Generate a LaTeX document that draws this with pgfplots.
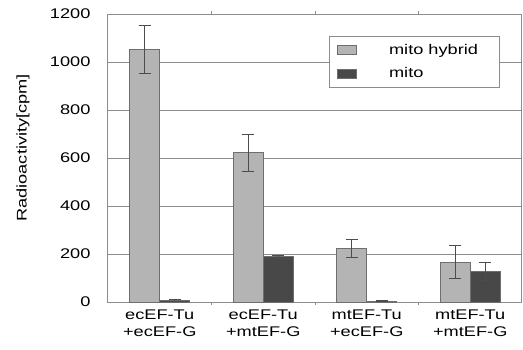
\documentclass[border=0pt]{standalone}
\usepackage{fontspec}
\setmainfont{Liberation Sans}
\newfontfamily\wide[FakeStretch=1.3]{Liberation Sans}
\usepackage{pgfplots}
\pgfplotsset{compat=1.18}
\definecolor{lightbar}{HTML}{B4B4B4}
\definecolor{darkbar}{HTML}{484848}
\definecolor{edge}{HTML}{6E6E6E}
\definecolor{gridc}{HTML}{8C8C8C}
\begin{document}
\begin{tikzpicture}
\useasboundingbox (-108pt,-47pt) rectangle (415pt,302pt);
\begin{axis}[
  at={(0,0)}, anchor=south west,
  scale only axis,
  width=414pt, height=288pt,
  xmin=-0.5, xmax=3.5,
  ymin=0, ymax=1200,
  ytick={0,200,...,1200},
  xtick={0,1,2,3},
  xticklabels={{ecEF-Tu\\+ecEF-G},{ecEF-Tu\\+mtEF-G},{mtEF-Tu\\+ecEF-G},{mtEF-Tu\\+mtEF-G}},
  xticklabel style={align=center, font=\wide\fontsize{14}{17}\selectfont, yshift=-4pt},
  minor xtick={0.5,1.5,2.5},
  major tick length=0pt,
  minor tick length=3pt,
  minor tick style={gridc},
  yticklabel style={font=\wide\fontsize{14}{17}\selectfont, xshift=-14pt},
  /pgf/number format/assume math mode=true,
  /pgf/number format/1000 sep={},
  ymajorgrids,
  grid style={gridc, line width=0.9pt},
  axis line style={gridc, line width=1pt},
  ylabel={Radioactivity[cpm]},
  ylabel style={font=\wide\fontsize{14}{17}\selectfont, at={(axis description cs:-0.205,0.535)}, anchor=center},
  ybar=0pt,
  bar width=30pt,
  legend style={at={(0.534,0.925)}, anchor=north west, draw=gridc, line width=0.8pt,
    font=\wide\fontsize{14}{17}\selectfont, inner xsep=8pt, inner ysep=6pt, row sep=8pt,
    legend cell align=left},
  legend image code/.code={\draw[#1, draw=edge, line width=0.6pt] (0pt,-4.5pt) rectangle (19pt,4.5pt);},
  legend columns=1,
]
\addplot[fill=lightbar, draw=edge, line width=0.8pt,
  error bars/.cd, y dir=both, y explicit,
  error bar style={black!70, line width=0.8pt},
  error mark options={rotate=90, mark size=6pt, line width=0.8pt, black!70}]
  coordinates {(0,1053) +- (0,100) (1,623) +- (0,77) (2,224) +- (0,37) (3,166) +- (0,68)};
\addplot[fill=darkbar, draw=edge, line width=0.8pt,
  error bars/.cd, y dir=both, y explicit,
  error bar style={black!70, line width=0.8pt},
  error mark options={rotate=90, mark size=6pt, line width=0.8pt, black!70}]
  coordinates {(0,5) +- (0,4) (1,188) +- (0,5) (2,3) +- (0,2) (3,127) +- (0,39)};
\legend{\hspace{30pt}mito hybrid\hspace{11pt}\null, \hspace{30pt}mito}
\end{axis}
\end{tikzpicture}
\end{document}
